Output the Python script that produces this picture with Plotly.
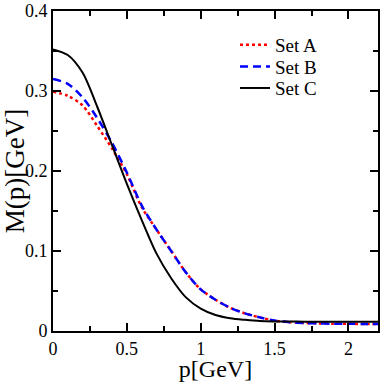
import plotly.graph_objects as go

# momentum grid [GeV]
p = [0.0, 0.1, 0.2, 0.3, 0.4, 0.5, 0.6, 0.7, 0.8, 0.9, 1.0, 1.1,
     1.2, 1.3, 1.4, 1.5, 1.6, 1.7, 1.8, 1.9, 2.0, 2.1, 2.2]

# mass function M(p) [GeV]
set_a = [0.299, 0.294, 0.282, 0.256, 0.228, 0.196, 0.155, 0.127, 0.100, 0.073,
         0.052, 0.039, 0.029, 0.022, 0.017, 0.013, 0.011, 0.010, 0.0095, 0.009,
         0.009, 0.0088, 0.0088]
set_b = [0.315, 0.309, 0.292, 0.266, 0.235, 0.198, 0.157, 0.127, 0.100, 0.073,
         0.052, 0.039, 0.029, 0.022, 0.017, 0.013, 0.011, 0.010, 0.0095, 0.009,
         0.009, 0.0088, 0.0088]
set_c = [0.352, 0.345, 0.323, 0.280, 0.232, 0.184, 0.139, 0.097, 0.066, 0.042,
         0.028, 0.020, 0.016, 0.014, 0.0125, 0.012, 0.0118, 0.0117, 0.0116, 0.0116,
         0.0116, 0.0116, 0.0116]

font = "Times New Roman, Liberation Serif, DejaVu Serif, serif"

fig = go.Figure()
fig.add_trace(go.Scatter(x=p, y=set_a, mode='lines', name='Set A', legend='legend',
                         line=dict(color='red', width=2.5, dash='dot',
                                   shape='spline', smoothing=0.8)))
fig.add_trace(go.Scatter(x=p, y=set_b, mode='lines', name='Set B', legend='legend2',
                         line=dict(color='blue', width=2.5, dash='8px,5px',
                                   shape='spline', smoothing=0.8)))
fig.add_trace(go.Scatter(x=p, y=set_c, mode='lines', name='Set C', legend='legend3',
                         line=dict(color='black', width=2,
                                   shape='spline', smoothing=0.8)))

axis_style = dict(showline=True, linecolor='black', linewidth=2, mirror='allticks',
                  ticks='inside', ticklen=8, tickwidth=1.5, tickcolor='black',
                  showgrid=False, zeroline=False, automargin=False,
                  tickfont=dict(family=font, size=18, color='black'))

fig.update_xaxes(range=[0, 2.2], dtick=0.5,
                 minor=dict(dtick=0.25, ticks='inside', ticklen=5, tickwidth=1.5,
                            tickcolor='black', showgrid=False),
                 title=dict(text='p[GeV]', font=dict(family=font, size=24, color='black'),
                            standoff=0),
                 **axis_style)
fig.update_yaxes(range=[0, 0.4], dtick=0.1,
                 minor=dict(dtick=0.05, ticks='inside', ticklen=5, tickwidth=1.5,
                            tickcolor='black', showgrid=False),
                 title=dict(text='M(p)[GeV]', font=dict(family=font, size=27, color='black'),
                            standoff=0),
                 **axis_style)

# one legend per entry so the rows can sit as tightly as in the original
leg = dict(x=0.56, xanchor='left', yanchor='middle', bgcolor='rgba(0,0,0,0)',
           itemwidth=30, font=dict(family=font, size=19, color='black'))

fig.update_layout(
    width=382, height=382,
    margin=dict(l=53, r=4, t=11, b=51),
    font=dict(family=font, color='black'),
    plot_bgcolor='white', paper_bgcolor='white',
    showlegend=True,
    legend=dict(y=0.894, **leg),
    legend2=dict(y=0.826, **leg),
    legend3=dict(y=0.759, **leg),
)

# page has a default body margin; drop it so the figure sits at the corner
fig.write_html("out.html", config={'displayModeBar': False},
               post_script="document.body.style.margin='0';")
